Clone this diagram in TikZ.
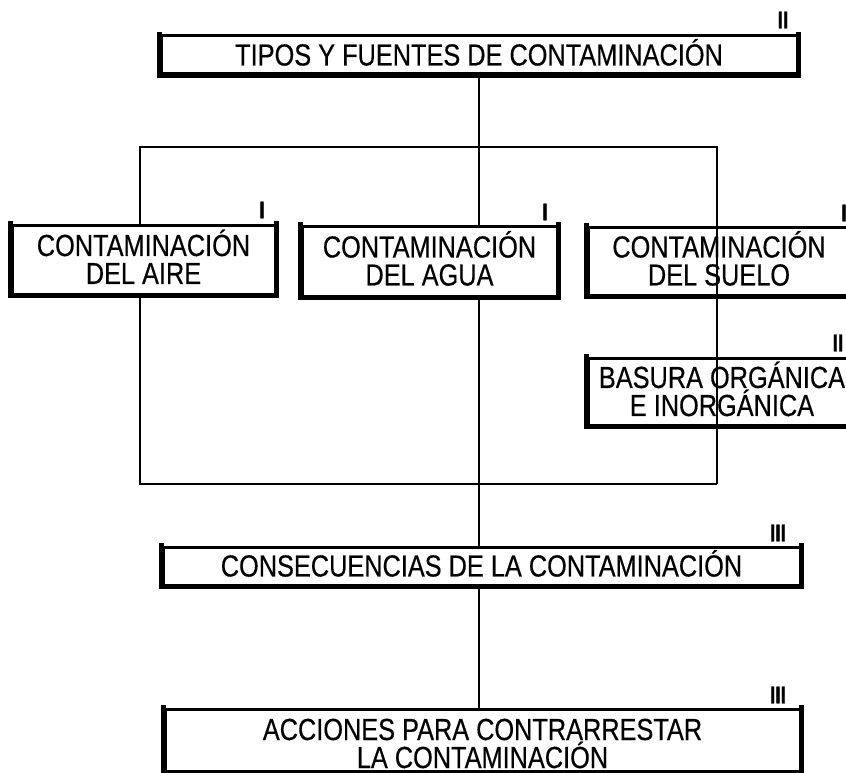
\documentclass[tikz,border=0pt]{standalone}
\usepackage{fontspec}
\setmainfont{Liberation Sans}[FakeStretch=0.83,FakeBold=0.4]
\newfontfamily\numfont{Liberation Sans}[FakeStretch=0.8,FakeBold=1.2]
\newcommand\capline[1]{\smash{#1}\vphantom{X}}
\begin{document}
\begin{tikzpicture}[x=1pt,y=-1pt,
  box/.style={draw, line width=3pt, inner sep=0pt, align=center,
              font=\fontsize{30.5}{28}\selectfont},
  heavy/.style={line width=5pt, line cap=rect},
  conn/.style={line width=2.6pt},
  num/.style={font=\fontsize{24}{24}\selectfont\numfont\bfseries, inner sep=0pt}]
\useasboundingbox (0,0) rectangle (846,773);
\fill[white] (0,0) rectangle (846,773);
\begin{scope}
\clip (0,0) rectangle (846,773);
% boxes
\node[box, minimum width=636pt, minimum height=38pt] (top) at (479,55) {\capline{TIPOS Y FUENTES DE CONTAMINACIÓN}};
\node[box, minimum width=263pt, minimum height=69pt] (aire) at (143.5,259.5) {\capline{CONTAMINACIÓN}\\\capline{DEL AIRE}};
\node[box, minimum width=255pt, minimum height=70pt] (agua) at (429.5,261) {\capline{CONTAMINACIÓN}\\\capline{DEL AGUA}};
\node[box, minimum width=262pt, minimum height=68pt] (suelo) at (719,261) {\capline{CONTAMINACIÓN}\\\capline{DEL SUELO}};
\node[box, minimum width=268pt, minimum height=67pt] (basura) at (722,391.5) {\capline{BASURA ORGÁNICA}\\\capline{E INORGÁNICA}};
\node[box, minimum width=637pt, minimum height=38pt] (cons) at (481.5,566) {\capline{CONSECUENCIAS DE LA CONTAMINACIÓN}};
\node[box, minimum width=635pt, minimum height=62pt] (acc) at (482.5,740) {\capline{ACCIONES PARA CONTRARRESTAR}\rule{0pt}{28pt}\\\capline{LA CONTAMINACIÓN}};
% heavier left, bottom and right edges
\foreach \b in {top,aire,agua,suelo,basura,cons,acc}
  \draw[heavy] (\b.north west) -- (\b.south west) -- (\b.south east) -- (\b.north east);
% level marks
\node[num] (n1) at (783,20) {II};
\node[num] (n2) at (262,210) {I};
\node[num] (n3) at (545,212) {I};
\node[num] (n4) at (844,213) {I};
\node[num] (n5) at (838,343) {II};
\node[num] (n6) at (778,533) {III};
\node[num] (n7) at (778,695) {III};
% bracket corners
\coordinate (bl) at (140,147);
\coordinate (br) at (717,147);
\coordinate (bbl) at (140,484);
\coordinate (bbr) at (717,484);
% connectors
\draw[conn] (top.south) -- (top.south |- agua.north);
\draw[conn] (aire.north -| bl) -- (bl) -- (br) -- (suelo.north -| br) -- (basura.north -| br) -- (bbr);
\draw[conn] (aire.south -| bl) -- (bbl) -- (bbr);
\draw[conn] (agua.south -| top.south) -- (cons.north -| top.south);
\draw[conn] (cons.south -| top.south) -- (acc.north -| top.south);
\end{scope}
\end{tikzpicture}
\end{document}
